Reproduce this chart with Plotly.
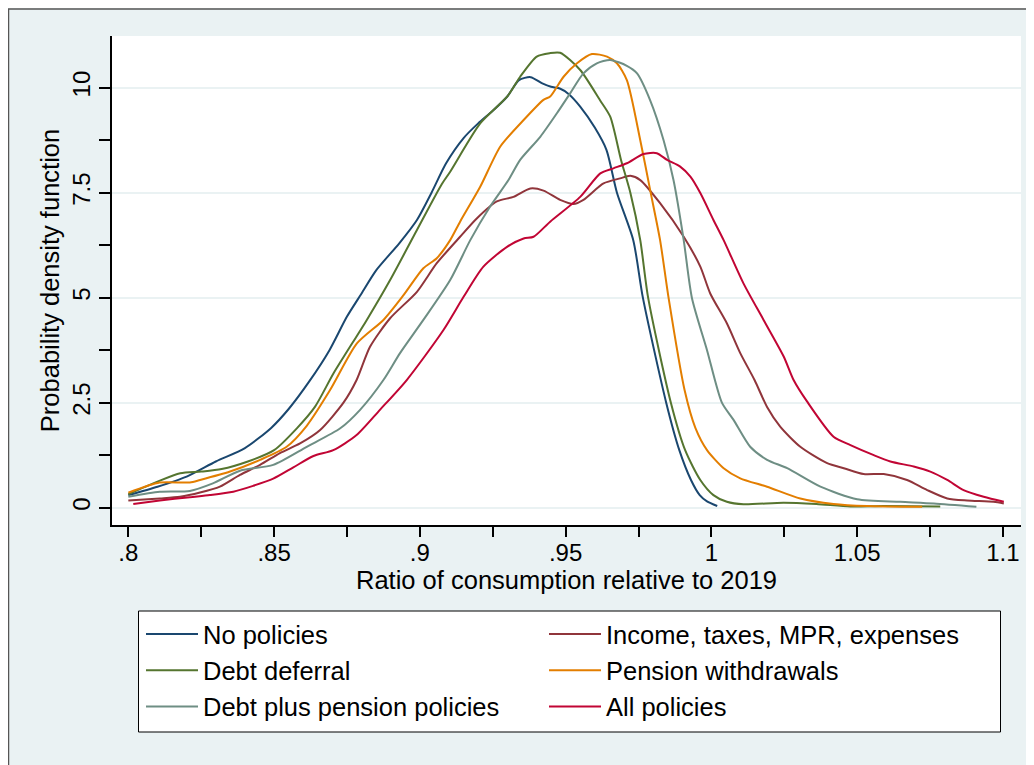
import plotly.graph_objects as go

# ---------------- data ----------------
names = ["No policies", "Income, taxes, MPR, expenses", "Debt deferral",
         "Pension withdrawals", "Debt plus pension policies", "All policies"]
colors = ["#1a476f", "#90353b", "#55752f", "#e37e00", "#6e8e84", "#c10534"]
legend_column = ["legend", "legend2", "legend", "legend2", "legend", "legend2"]

no_pol_x = [0.800, 0.810, 0.820, 0.830, 0.840, 0.849, 0.855, 0.862, 0.869, 0.875, 0.880, 0.885,
            0.893, 0.899, 0.904, 0.909, 0.915, 0.920, 0.925, 0.930, 0.934, 0.938, 0.942, 0.945,
            0.948, 0.951, 0.955, 0.960, 0.964, 0.9676, 0.9732, 0.9765, 0.9845, 0.989, 0.993,
            0.996, 0.9985, 1.002]
no_pol_y = [0.30, 0.50, 0.74, 1.10, 1.42, 1.90, 2.35, 3.00, 3.75, 4.55, 5.10, 5.65,
            6.30, 6.85, 7.50, 8.20, 8.80, 9.15, 9.45, 9.79, 10.18, 10.25, 10.10, 10.02,
            9.98, 9.85, 9.55, 9.05, 8.52, 7.50, 6.37, 5.00, 2.50, 1.37, 0.66,
            0.30, 0.15, 0.04]

income_x = [0.800, 0.8108, 0.8177, 0.8246, 0.8314, 0.8383, 0.8452, 0.852, 0.8589, 0.8658, 0.8738,
            0.8783, 0.8829, 0.8898, 0.899, 0.9058, 0.9138, 0.9196, 0.9264, 0.9321, 0.9379, 0.9424,
            0.9481, 0.9527, 0.9561, 0.963, 0.9687, 0.9722, 0.9756, 0.9824, 0.9905, 0.9962, 0.9996,
            1.0053, 1.0099, 1.0148, 1.0191, 1.0236, 1.0305, 1.0397, 1.0454, 1.0522, 1.0591, 1.0671,
            1.074, 1.0809, 1.0877, 1.0968, 1.1003]
income_y = [0.17, 0.22, 0.26, 0.36, 0.50, 0.78, 1.02, 1.30, 1.53, 1.85, 2.50,
            3.04, 3.83, 4.51, 5.14, 5.82, 6.45, 6.89, 7.29, 7.40, 7.60, 7.55,
            7.33, 7.23, 7.33, 7.72, 7.84, 7.90, 7.80, 7.25, 6.45, 5.74, 5.10,
            4.39, 3.68, 3.04, 2.40, 1.93, 1.45, 1.06, 0.94, 0.80, 0.80, 0.66,
            0.42, 0.22, 0.17, 0.14, 0.10]

debt_x = [0.800, 0.810, 0.8178, 0.825, 0.832, 0.841, 0.850, 0.8578, 0.864, 0.8704, 0.8818, 0.8898,
          0.899, 0.9075, 0.9104, 0.9207, 0.930, 0.9344, 0.9401, 0.9445, 0.9481, 0.955, 0.9618,
          0.9653, 0.969, 0.9722, 0.9756, 0.9783, 0.9861, 0.991, 0.9962, 1.0007, 1.0053, 1.011,
          1.0247, 1.036, 1.0477, 1.059, 1.0785]
debt_y = [0.32, 0.62, 0.82, 0.86, 0.92, 1.10, 1.37, 1.89, 2.40, 3.20, 4.47, 5.42,
          6.61, 7.70, 8.00, 9.15, 9.79, 10.26, 10.74, 10.82, 10.83, 10.42, 9.70,
          9.31, 8.28, 7.50, 6.37, 5.00, 2.50, 1.37, 0.66, 0.30, 0.14, 0.08,
          0.12, 0.09, 0.03, 0.04, 0.03]

pension_x = [0.800, 0.8108, 0.8211, 0.8246, 0.8349, 0.8452, 0.8543, 0.8612, 0.8692, 0.8784, 0.8875,
             0.8944, 0.9012, 0.9058, 0.9104, 0.9138, 0.9207, 0.9276, 0.9356, 0.9424, 0.9447, 0.9493,
             0.9539, 0.959, 0.9642, 0.9676, 0.971, 0.9756, 0.979, 0.9824, 0.9853, 0.9908, 0.9945,
             0.9985, 1.0042, 1.0099, 1.0191, 1.0305, 1.0419, 1.0534, 1.0723]
pension_y = [0.36, 0.60, 0.60, 0.66, 0.86, 1.14, 1.45, 1.95, 2.80, 3.91, 4.47,
             5.06, 5.70, 5.94, 6.37, 6.81, 7.64, 8.60, 9.23, 9.71, 9.79, 10.26,
             10.58, 10.80, 10.74, 10.58, 10.18, 8.75, 7.56, 6.37, 5.00, 2.80, 1.90,
             1.37, 0.94, 0.70, 0.50, 0.22, 0.09, 0.04, 0.02]

dpp_x = [0.800, 0.8108, 0.8211, 0.829, 0.8383, 0.8497, 0.8612, 0.8727, 0.8795, 0.8875, 0.8932,
         0.9012, 0.9104, 0.9173, 0.9241, 0.9304, 0.9344, 0.9413, 0.947, 0.9516, 0.9561, 0.9607,
         0.9653, 0.971, 0.9745, 0.979, 0.9836, 0.987, 0.9905, 0.9933, 0.9985, 1.0036, 1.0076,
         1.0133, 1.0191, 1.026, 1.0374, 1.05, 1.0648, 1.0763, 1.0909]
dpp_y = [0.26, 0.38, 0.40, 0.58, 0.88, 1.02, 1.45, 1.89, 2.33, 3.04, 3.68,
         4.47, 5.42, 6.37, 7.17, 7.80, 8.28, 8.83, 9.39, 9.87, 10.34, 10.58,
         10.66, 10.52, 10.34, 9.70, 8.75, 7.80, 6.37, 5.00, 3.75, 2.50, 2.09,
         1.45, 1.14, 0.94, 0.50, 0.20, 0.14, 0.10, 0.02]

all_x = [0.8017, 0.8108, 0.8211, 0.828, 0.836, 0.8428, 0.8497, 0.8566, 0.8635, 0.8703, 0.8783,
         0.8863, 0.8955, 0.9081, 0.915, 0.9218, 0.9299, 0.9356, 0.939, 0.9447, 0.955, 0.9619,
         0.9664, 0.971, 0.9767, 0.9813, 0.9848, 0.9893, 0.9928, 0.9962, 1.0007, 1.0042, 1.011,
         1.0179, 1.0248, 1.0282, 1.0328, 1.0419, 1.0477, 1.0557, 1.0614, 1.0694, 1.0751, 1.0809,
         1.0865, 1.0934, 1.1003]
all_y = [0.09, 0.17, 0.25, 0.30, 0.38, 0.52, 0.69, 0.96, 1.23, 1.37, 1.73,
         2.33, 3.04, 4.23, 5.02, 5.74, 6.21, 6.41, 6.45, 6.81, 7.40, 7.96,
         8.08, 8.20, 8.42, 8.44, 8.28, 8.12, 7.88, 7.49, 6.85, 6.37, 5.34,
         4.47, 3.60, 3.04, 2.53, 1.69, 1.49, 1.25, 1.10, 0.98, 0.86, 0.66,
         0.42, 0.26, 0.14]

x_tickvals = [0.8, 0.85, 0.9, 0.95, 1.0, 1.05, 1.1]
x_ticktext = [".8", ".85", ".9", ".95", "1", "1.05", "1.1"]
y_tickvals = [0, 2.5, 5, 7.5, 10]
y_ticktext = ["0", "2.5", "5", "7.5", "10"]

series = [(no_pol_x, no_pol_y), (income_x, income_y), (debt_x, debt_y),
          (pension_x, pension_y), (dpp_x, dpp_y), (all_x, all_y)]

# ---------------- figure ----------------
OFF = 8                      # page body margin
W, H = 1026, 757
ML, MR, MT, MB = 104, 13, 28, 240
PW, PH = W - ML - MR, H - MT - MB


def px_x(p):                 # screen px -> paper fraction
    return (p - OFF - ML) / PW


def px_y(p):
    return (H - MB - (p - OFF)) / PH


FONT = "Liberation Sans, Arial, Helvetica, sans-serif"
BG = "#eaf2f3"

fig = go.Figure()
for (xs, ys), nm, col, lg in zip(series, names, colors, legend_column):
    fig.add_trace(go.Scatter(x=xs, y=ys, mode="lines", name=nm, legend=lg,
                             line=dict(color=col, width=2, shape="spline", smoothing=0.7)))

shapes = [
    # outer graph region frame
    dict(type="rect", xref="paper", yref="paper", x0=px_x(8.5), x1=px_x(1060), y0=px_y(800), y1=px_y(9),
         fillcolor=BG, line=dict(color="#555555", width=1.5), layer="below"),
    # plot region
    dict(type="rect", xref="paper", yref="paper", x0=0, x1=1, y0=0, y1=1,
         fillcolor="white", line=dict(width=0), layer="below"),
    # legend box
    dict(type="rect", xref="paper", yref="paper", x0=px_x(138.5), x1=px_x(1000.5), y0=px_y(732), y1=px_y(611),
         fillcolor="white", line=dict(color="black", width=1), layer="below"),
]

legend_common = dict(orientation="v", xanchor="left", yanchor="top", itemwidth=52,
                     bgcolor="rgba(0,0,0,0)", borderwidth=0, traceorder="normal",
                     font=dict(family=FONT, size=25.5, color="black"))

fig.update_layout(
    width=W, height=H, autosize=False,
    margin=dict(l=ML, r=MR, t=MT, b=MB, pad=0),
    paper_bgcolor=BG, plot_bgcolor="white",
    font=dict(family=FONT, color="black", size=24),
    shapes=shapes,
    showlegend=True,
    legend=dict(x=px_x(141), y=px_y(611), **legend_common),
    legend2=dict(x=px_x(544), y=px_y(611), **legend_common),
    xaxis=dict(range=[0.7944, 1.1062], tickvals=x_tickvals, ticktext=x_ticktext,
               showgrid=False, zeroline=False, showline=True, linecolor="black", linewidth=1.5,
               ticks="outside", ticklen=10, tickwidth=1.5, tickcolor="black",
               tickfont=dict(size=24), ticklabelstandoff=-5,
               minor=dict(dtick=0.025, tick0=0.8, ticks="outside", ticklen=10, tickwidth=1.5,
                          tickcolor="black", showgrid=False),
               title=dict(text="Ratio of consumption relative to 2019", font=dict(size=25.5), standoff=4)),
    yaxis=dict(range=[-0.412, 11.23], tickvals=y_tickvals, ticktext=y_ticktext, tickangle=-90,
               showgrid=True, gridcolor=BG, gridwidth=2, zeroline=False,
               showline=True, linecolor="black", linewidth=1.5,
               ticks="outside", ticklen=11, tickwidth=1.5, tickcolor="black",
               tickfont=dict(size=24),
               minor=dict(dtick=1.25, tick0=0, ticks="outside", ticklen=11, tickwidth=1.5,
                          tickcolor="black", showgrid=False),
               title=dict(text="Probability density function", font=dict(size=25.5), standoff=1)),
)

fig.write_html("out.html")
